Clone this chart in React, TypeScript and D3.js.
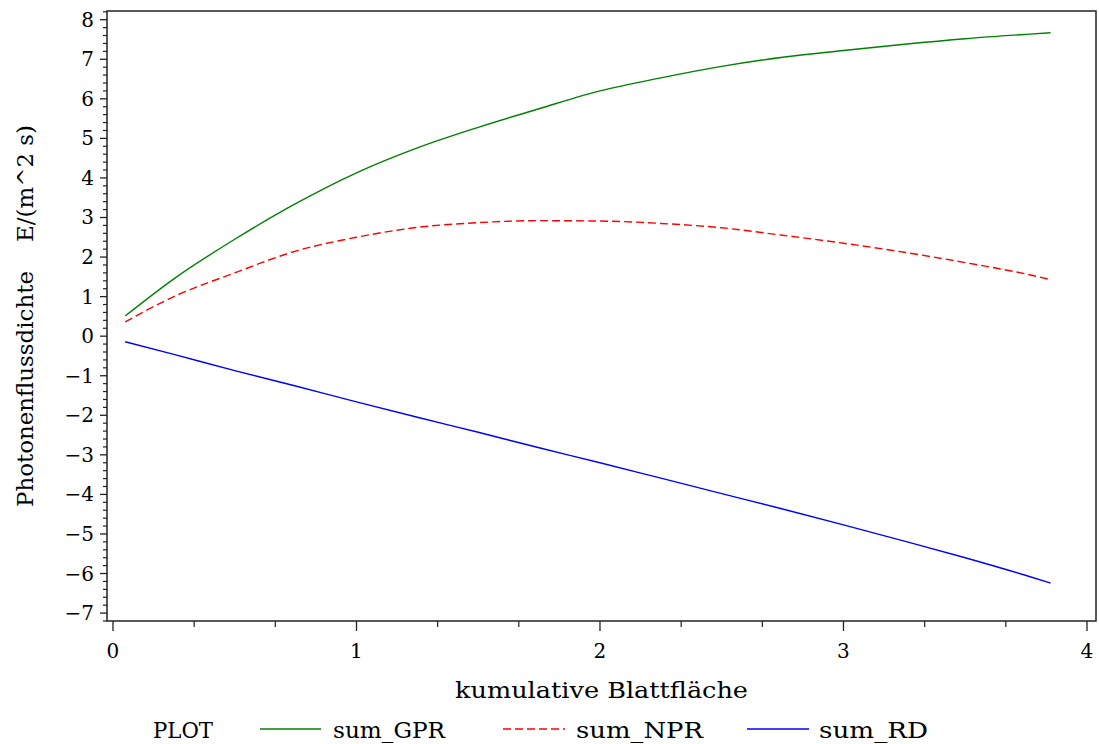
import React from "react";
import * as d3 from "d3";

const xValues = [0.05, 0.25, 0.5, 0.75, 1.0, 1.25, 1.5, 1.75, 2.0, 2.25, 2.5, 2.75, 3.0, 3.25, 3.5, 3.75, 3.85];
const sumGPR = [0.51, 1.45, 2.45, 3.35, 4.13, 4.76, 5.28, 5.75, 6.2, 6.53, 6.82, 7.05, 7.22, 7.38, 7.52, 7.63, 7.67];
const sumNPR = [0.36, 1.0, 1.6, 2.15, 2.5, 2.75, 2.87, 2.92, 2.91, 2.85, 2.74, 2.55, 2.35, 2.12, 1.86, 1.57, 1.43];
const sumRD = [-0.14, -0.46, -0.87, -1.26, -1.66, -2.05, -2.43, -2.82, -3.2, -3.59, -3.98, -4.37, -4.77, -5.18, -5.6, -6.05, -6.24];

const xTickLabels = [0, 1, 2, 3, 4];
const yTickLabels = [-7, -6, -5, -4, -3, -2, -1, 0, 1, 2, 3, 4, 5, 6, 7, 8];

const seriesNames = ["sum_GPR", "sum_NPR", "sum_RD"];
const seriesColors = ["#008000", "#ff0000", "#0000ff"];
const seriesDash = [null, "8,4", null];

const W = 1099;
const H = 744;
const left = 107, right = 1096, top = 11, bottom = 621;
const FONT = "'DejaVu Serif', serif";

export default function App() {
  const x = d3.scaleLinear().domain([-0.0246, 4.037]).range([left, right]);
  const y = d3.scaleLinear().domain([-7.2, 8.22]).range([bottom, top]);
  const allSeries = [sumGPR, sumNPR, sumRD];
  const line = d3
    .line<number>()
    .x((_, i) => x(xValues[i]))
    .y((d) => y(d))
    .curve(d3.curveMonotoneX);

  const xMinor: number[] = [];
  for (let k = 0; k <= 12; k++) if (k % 3 !== 0) xMinor.push(k / 3);
  const yMinor: number[] = [];
  for (let k = -36; k <= 41; k++) if (k % 5 !== 0) yMinor.push(k / 5);

  const fmt = (v: number) => (v < 0 ? "\u2212" + Math.abs(v) : String(v));
  const legendY = 729;
  const legendItems = [
    { x1: 260, x2: 321, tx: 333, len: 112 },
    { x1: 503, x2: 565, tx: 576, len: 127 },
    { x1: 747, x2: 809, tx: 819, len: 109 },
  ];

  return (
    <svg width={W} height={H} style={{ position: "absolute", left: 0, top: 0, background: "#fff" }}>
      <rect x={0} y={0} width={W} height={H} fill="#fff" />
      {allSeries.map((s, i) => (
        <path
          key={seriesNames[i]}
          d={line(s) || ""}
          fill="none"
          stroke={seriesColors[i]}
          strokeWidth={1.4}
          strokeDasharray={seriesDash[i] || undefined}
        />
      ))}
      <rect x={left} y={top} width={right - left} height={bottom - top} fill="none" stroke="#222" strokeWidth={1.5} />
      {yTickLabels.map((v) => (
        <g key={"y" + v}>
          <line x1={left - 7} x2={left} y1={y(v)} y2={y(v)} stroke="#222" strokeWidth={1.3} />
          <text x={94} y={y(v) + 7} textAnchor="end" fontFamily={FONT} fontSize={20} fill="#000">
            {fmt(v)}
          </text>
        </g>
      ))}
      {yMinor.map((v) => (
        <line key={"ym" + v} x1={left - 4} x2={left} y1={y(v)} y2={y(v)} stroke="#222" strokeWidth={1.2} />
      ))}
      {xTickLabels.map((v) => (
        <g key={"x" + v}>
          <line x1={x(v)} x2={x(v)} y1={bottom} y2={bottom + 10} stroke="#222" strokeWidth={1.3} />
          <text x={x(v)} y={658} textAnchor="middle" fontFamily={FONT} fontSize={20} fill="#000">
            {fmt(v)}
          </text>
        </g>
      ))}
      {xMinor.map((v) => (
        <line key={"xm" + v} x1={x(v)} x2={x(v)} y1={bottom} y2={bottom + 6} stroke="#222" strokeWidth={1.2} />
      ))}
      <text x={455} y={698} fontFamily={FONT} fontSize={22} fill="#000" textLength={293} lengthAdjust="spacingAndGlyphs">
        kumulative Blattfläche
      </text>
      <text
        transform={`translate(33, 507) rotate(-90)`}
        fontFamily={FONT}
        fontSize={22}
        fill="#000"
        style={{ whiteSpace: "pre" }}
        textLength={382}
        lengthAdjust="spacingAndGlyphs"
      >
        {"Photonenflussdichte    E/(m^2 s)"}
      </text>
      <text x={153} y={738} fontFamily={FONT} fontSize={22} fill="#000" textLength={60} lengthAdjust="spacingAndGlyphs">
        PLOT
      </text>
      {legendItems.map((it, i) => (
        <g key={"lg" + i}>
          <line
            x1={it.x1}
            x2={it.x2}
            y1={legendY}
            y2={legendY}
            stroke={seriesColors[i]}
            strokeWidth={1.4}
            strokeDasharray={seriesDash[i] || undefined}
          />
          <text x={it.tx} y={738} fontFamily={FONT} fontSize={22} fill="#000" textLength={it.len} lengthAdjust="spacingAndGlyphs">
            {seriesNames[i]}
          </text>
        </g>
      ))}
    </svg>
  );
}
